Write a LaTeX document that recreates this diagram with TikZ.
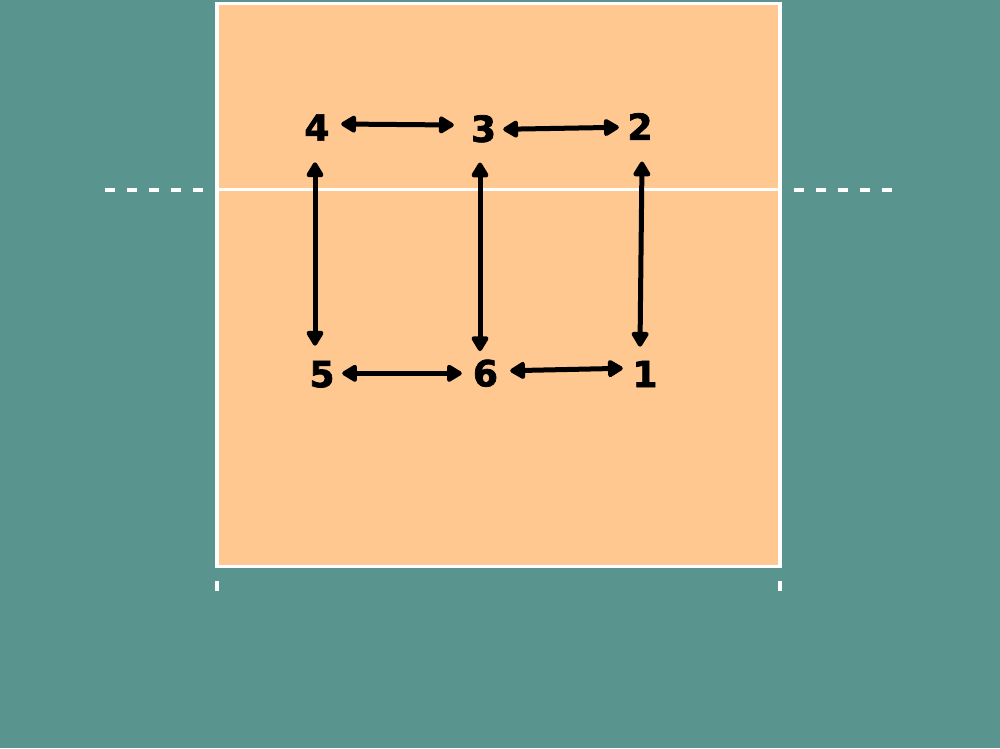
\documentclass[tikz,border=0pt]{standalone}
\usepackage{fontspec}
\setmainfont{DejaVu Sans}
\newfontfamily\numfont{DejaVu Sans Bold}[FakeBold=2]
\usetikzlibrary{arrows.meta}
\definecolor{bgteal}{RGB}{90,148,142}
\definecolor{courtorange}{RGB}{255,200,145}
\tikzset{
  num/.style={inner sep=0pt, text depth=0pt, font=\fontsize{36}{36}\numfont, text=black},
  tipshape/.style={},
  dbl/.style={line width=5pt, black, {Triangle[length=17pt,width=19pt,round]}-{Triangle[length=17pt,width=19pt,round]}},
  courtline/.style={draw=white, line width=3.5pt},
  sideline/.style={white, line width=4pt, dash pattern=on 10pt off 12pt}
}
\begin{document}
\begin{tikzpicture}[x=1pt,y=-1pt]
\useasboundingbox (0,0) rectangle (1000,748);
\fill[bgteal] (0,0) rectangle (1000,748);
% court
\filldraw[fill=courtorange, courtline] (217,3.5) rectangle (780,566.5);
\draw[white, line width=3pt] (217,189.5) -- (780,189.5);
% dashed extensions
\draw[sideline] (105,189.5) -- (205,189.5);
\draw[sideline] (794,189.5) -- (894,189.5);
% ticks
\draw[white, line width=4pt] (217,581) -- (217,591);
\draw[white, line width=4pt] (780,581) -- (780,591);
% numbers
\node[num] (n4) at (317,127.5) {4};
\node[num] (n3) at (483.5,128.5) {3};
\node[num] (n2) at (640,126.5) {2};
\node[num] (n5) at (322,374) {5};
\node[num] (n6) at (485.5,373) {6};
\node[num] (n1) at (645,374) {1};
% arrows
\draw[dbl] ([shift={(11.5,-3.5)}]n4.east) -- ([shift={(-17,-3.5)}]n3.west);
\draw[dbl] ([shift={(7,0.8)}]n3.east) -- ([shift={(-8.5,0.8)}]n2.west);
\draw[dbl] ([shift={(7.5,-0.7)}]n5.east) -- ([shift={(-11,0.3)}]n6.west);
\draw[dbl] ([shift={(12,-2.3)}]n6.east) -- ([shift={(-9.5,-5.7)}]n1.west);
\draw[dbl] ([shift={(-2,21.5)}]n4.south) -- ([shift={(-7,-15)}]n5.north);
\draw[dbl] ([shift={(-3.5,20.5)}]n3.south) -- ([shift={(-5.5,-8.4)}]n6.north);
\draw[dbl] ([shift={(2,21.5)}]n2.south) -- ([shift={(-5,-14)}]n1.north);
\end{tikzpicture}
\end{document}
